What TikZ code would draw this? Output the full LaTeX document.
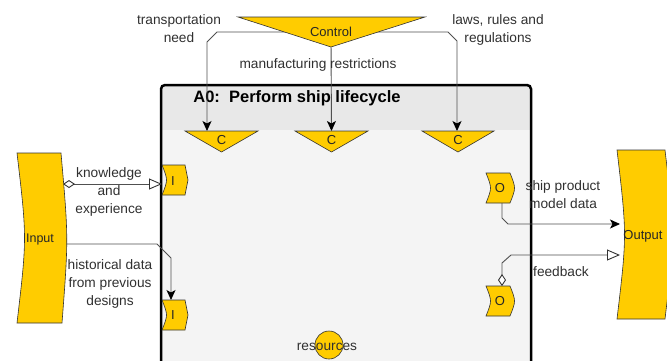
\documentclass[tikz,border=0pt]{standalone}
\usepackage{fontspec}
\setmainfont{Liberation Sans}
\usetikzlibrary{arrows.meta}
\definecolor{idefyellow}{HTML}{FFCC00}
\definecolor{txt}{HTML}{303030}
\definecolor{wire}{HTML}{505050}
\definecolor{hdr}{HTML}{E8E8E8}
\definecolor{boxbody}{HTML}{F4F4F4}

\begin{document}
\begin{tikzpicture}[x=1pt,y=-1pt,
  port/.style={fill=idefyellow, draw=black!80, line width=0.6pt},
  lbl/.style={text=txt, font=\fontsize{13.7}{18}\selectfont, align=center, inner sep=0pt},
  portlbl/.style={text=black!85, font=\fontsize{13}{15}\selectfont, inner sep=0pt},
  wirepath/.style={draw=wire, line width=0.9pt},
  filledtip/.style={-{Stealth[length=10pt,width=9pt,inset=2.5pt,color=black]}},
  tunnelwire/.style={arrows={{Diamond[open,length=12pt,width=8pt,fill=white,color=black!80]}-{Triangle[open,length=13pt,width=11pt,fill=white,color=black!80]}}},
]
\useasboundingbox (0,0) rectangle (667,360);
\begin{scope}
\clip (0,0) rectangle (667,360);

% activity box with header band
\begin{scope}
  \clip[rounded corners=4pt] (161,85) rectangle (531,372);
  \fill[boxbody] (161,85) rectangle (531,372);
  \fill[hdr] (161,85) rectangle (531,130);
\end{scope}
\draw[line width=2.5pt, rounded corners=4pt] (161,85) rectangle (531,372);
\node[font=\bfseries\fontsize{16.5}{18}\selectfont, inner sep=0pt] (title) at (297,98) {A0:\ \ Perform ship lifecycle};

% anchor points for connectors
\coordinate (ctlL) at (300,32);
\coordinate (ctlM) at (331,40);
\coordinate (ctlR) at (362,32);
\coordinate (c1top) at (207,131);
\coordinate (c2top) at (331.5,131);
\coordinate (c3top) at (457,131);
\coordinate (inK) at (63,184);
\coordinate (inH) at (65,244);
\coordinate (i1left) at (162,184);
\coordinate (i2top) at (171,300);
\coordinate (o1bot) at (502,203);
\coordinate (o2top) at (502,286);
\coordinate (outA) at (620,224);
\coordinate (outB) at (620,255);

% controls
\draw[wirepath, filledtip] (ctlL) -- (217,32) -- (207,42) -- (c1top);
\draw[wirepath, filledtip] (ctlM) -- (c2top);
\draw[wirepath, filledtip] (ctlR) -- (448,32) -- (457,41) -- (c3top);

% inputs
\draw[wirepath, tunnelwire] (inK) -- (i1left);
\draw[wirepath, filledtip] (inH) -- (157,244) -- (171,258) -- (i2top);

% outputs
\draw[wirepath, filledtip] (o1bot) -- (502,218) -- (508,224) -- (outA);
\draw[wirepath, tunnelwire] (o2top) -- (502,263) -- (511,255) -- (outB);

% control triangle
\draw[port] (238,17) -- (425,17) -- (331,47) -- cycle;
\node[portlbl] (control) at (331,32) {Control};

% control ports
\draw[port] (185,131) -- (258,131) -- (221.5,152) -- cycle;
\node[portlbl] (c1) at (221.5,140) {C};
\draw[port] (295,131) -- (368,131) -- (331.5,152) -- cycle;
\node[portlbl] (c2) at (331.5,140) {C};
\draw[port] (422,131) -- (494,131) -- (458,152) -- cycle;
\node[portlbl] (c3) at (458,140) {C};

% input ports
\draw[port] (162,165) -- (185,165) -- (188,180) -- (185,195) -- (162,195) .. controls (168,180) .. (162,165) -- cycle;
\node[portlbl] (i1) at (173,181) {I};
\draw[port] (162,300) -- (185,300) -- (188,315) -- (185,330) -- (162,330) .. controls (168,315) .. (162,300) -- cycle;
\node[portlbl] (i2) at (173,315) {I};

% output ports
\draw[port] (486,173) -- (510,173) .. controls (516,188) .. (510,203) -- (486,203) .. controls (492,188) .. (486,173) -- cycle;
\node[portlbl] (o1) at (500,188) {O};
\draw[port] (486,286) -- (510,286) .. controls (516,301) .. (510,316) -- (486,316) .. controls (492,301) .. (486,286) -- cycle;
\node[portlbl] (o2) at (500,301) {O};

% mechanism port
\draw[port] (329,345) circle (14);

% external input and output
\draw[port] (17,153) -- (61,153) .. controls (68.5,238) .. (62,323) -- (17,323) .. controls (27,238) .. (17,153) -- cycle;
\node[portlbl, font=\fontsize{12.5}{15}\selectfont] (input) at (40,239) {Input};
\draw[port] (617,150) -- (665,150) .. controls (675,235) .. (665,319) -- (617,319) .. controls (627,235) .. (617,150) -- cycle;
\node[portlbl] (output) at (643,236) {Output};

% arrow labels
\node[lbl] (lblTransport) at (179,29) {transportation\\need};
\node[lbl] (lblLaws) at (498,30) {laws, rules and\\regulations};
\node[lbl] (lblManuf) at (318,65) {manufacturing restrictions};
\node[lbl] (lblKnow) at (109,192) {knowledge\\and\\experience};
\node[lbl] (lblHist) at (110,284) {historical data\\from previous\\designs};
\node[lbl] (lblShip) at (563,195) {ship product\\model data};
\node[lbl] (lblFeed) at (561,272) {feedback};
\node[lbl] (lblRes) at (327,347) {resources};
\end{scope}
\end{tikzpicture}
\end{document}
